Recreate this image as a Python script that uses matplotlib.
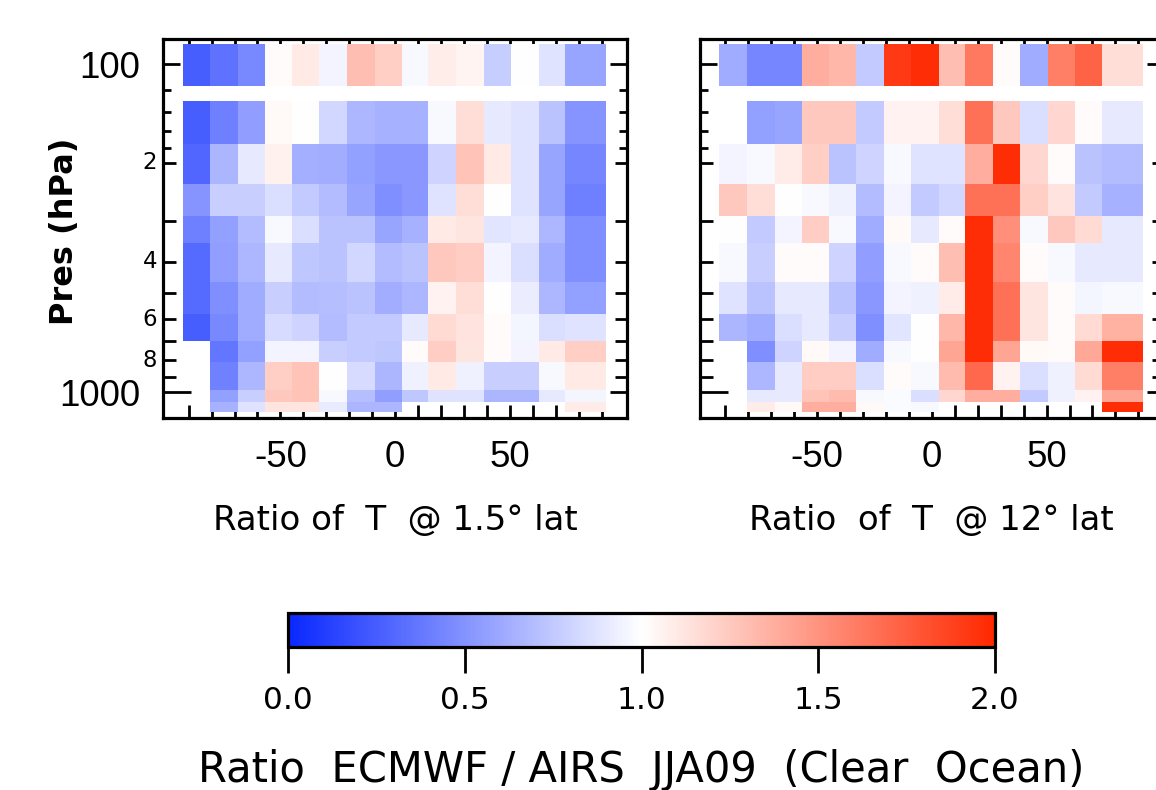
import numpy as np
import matplotlib
matplotlib.use("Agg")
import matplotlib.pyplot as plt
from matplotlib.colors import LinearSegmentedColormap
from matplotlib.ticker import FixedLocator, NullFormatter

plt.rcParams['font.family'] = ['Liberation Sans', 'DejaVu Sans']

nan = np.nan

# latitude bin edges (deg) and pressure bin edges (hPa)
lat_edges = [-92.5, -80.5, -68.5, -56.5, -45, -33, -21, -9, 3, 14.5, 26.5, 38.5, 50.5, 62.5, 74, 92]
pres_edges = [87, 117, 130, 175, 232, 290, 350, 463, 580, 699, 810, 988, 1073, 1151]

# ECMWF / AIRS ratio, rows top (100 hPa) to bottom (surface)
ratio_1p5 = [
    [0.25, 0.35, 0.45, 1.02, 1.10, 0.95, 1.30, 1.22, 0.97, 1.08, 1.05, 0.77, 1.00, 0.87, 0.58],
    [nan] * 15,
    [0.25, 0.41, 0.55, 1.03, 1.00, 0.82, 0.67, 0.64, 0.64, 0.97, 1.15, 0.90, 0.87, 0.72, 0.50],
    [0.29, 0.66, 0.90, 1.07, 0.63, 0.62, 0.56, 0.52, 0.52, 0.80, 1.28, 1.10, 0.87, 0.58, 0.44],
    [0.50, 0.78, 0.78, 0.85, 0.75, 0.69, 0.58, 0.48, 0.52, 0.87, 1.15, 1.00, 0.87, 0.58, 0.41],
    [0.41, 0.56, 0.69, 0.97, 0.85, 0.72, 0.72, 0.58, 0.64, 1.10, 1.12, 0.88, 0.90, 0.67, 0.48],
    [0.31, 0.55, 0.67, 0.90, 0.74, 0.72, 0.82, 0.69, 0.72, 1.25, 1.23, 0.95, 0.85, 0.61, 0.48],
    [0.31, 0.48, 0.61, 0.78, 0.69, 0.70, 0.72, 0.62, 0.67, 1.06, 1.15, 1.00, 0.92, 0.67, 0.56],
    [0.25, 0.45, 0.61, 0.83, 0.80, 0.69, 0.75, 0.75, 0.90, 1.17, 1.13, 1.02, 0.96, 0.85, 0.87],
    [nan, 0.36, 0.56, 0.95, 0.95, 0.78, 0.75, 0.74, 1.02, 1.23, 1.12, 1.02, 0.95, 1.10, 1.22],
    [nan, 0.42, 0.67, 1.22, 1.28, 1.00, 0.83, 0.66, 0.93, 1.10, 0.93, 0.78, 0.78, 0.97, 1.10],
    [nan, 0.56, 0.78, 1.25, 1.28, 0.97, 0.70, 0.55, 0.74, 0.87, 0.87, 0.66, 0.66, 0.90, 0.96],
    [nan, 0.64, 0.87, 1.12, 1.12, 0.91, 0.66, 0.66, nan, nan, nan, nan, nan, nan, 1.09],
]

ratio_12 = [
    [0.61, 0.44, 0.44, 1.38, 1.33, 0.75, 1.92, 1.97, 1.30, 1.62, 1.02, 0.61, 1.60, 1.72, 1.15],
    [nan] * 15,
    [nan, 0.56, 0.58, 1.25, 1.25, 0.75, 1.06, 1.06, 1.15, 1.66, 1.25, 0.85, 1.18, 1.02, 0.90],
    [0.95, 0.97, 1.09, 1.22, 0.72, 0.80, 0.97, 0.87, 0.87, 1.38, 1.97, 1.18, 1.02, 0.72, 0.69],
    [1.25, 1.15, 1.00, 0.97, 0.93, 0.69, 0.95, 0.75, 0.82, 1.66, 1.66, 1.22, 1.13, 0.75, 0.64],
    [1.00, 0.75, 0.95, 1.23, 0.97, 0.61, 1.03, 0.90, 1.02, 1.97, 1.52, 0.97, 1.25, 1.17, 0.90],
    [0.97, 0.78, 1.02, 1.02, 0.80, 0.55, 0.97, 1.02, 1.30, 1.97, 1.57, 1.02, 0.97, 0.90, 0.90],
    [0.87, 0.72, 0.90, 0.90, 0.72, 0.52, 0.95, 0.93, 1.09, 1.97, 1.66, 1.12, 1.02, 0.96, 0.97],
    [0.66, 0.61, 0.85, 0.90, 0.78, 0.48, 0.88, 1.00, 1.33, 1.97, 1.66, 1.12, 1.02, 1.17, 1.36],
    [nan, 0.48, 0.80, 1.03, 0.95, 0.61, 0.97, 1.00, 1.42, 1.97, 1.42, 1.03, 1.02, 1.40, 1.97],
    [nan, 0.67, 0.90, 1.23, 1.23, 0.85, 1.02, 0.97, 1.32, 1.70, 1.06, 0.85, 0.93, 1.17, 1.60],
    [nan, 0.90, 0.90, 1.28, 1.32, 0.97, 0.98, 0.85, 1.18, 1.38, 1.38, 0.75, 0.93, 1.06, 1.42],
    [nan, 1.09, 1.03, 1.38, 1.38, 1.03, 0.98, 0.97, nan, nan, nan, nan, nan, nan, 1.97],
]

panel_titles = ["Ratio of  T  @ 1.5\u00b0 lat", "Ratio  of  T  @ 12\u00b0 lat"]
minor_labels = {200: "2", 400: "4", 600: "6", 800: "8"}
cbar_ticks = [0.0, 0.5, 1.0, 1.5, 2.0]
cbar_title = "Ratio  ECMWF / AIRS  JJA09  (Clear  Ocean)"

cmap = LinearSegmentedColormap.from_list("bwr_idl", ["#0a28ff", "#ffffff", "#ff2800"])

fig = plt.figure(figsize=(11.56, 7.9), dpi=100)
ax1 = fig.add_axes([0.1413, 0.4709, 0.4011, 0.4794])
ax2 = fig.add_axes([0.6055, 0.4709, 0.4011, 0.4794])

for ax, data, title in [(ax1, ratio_1p5, panel_titles[0]), (ax2, ratio_12, panel_titles[1])]:
    mesh = ax.pcolormesh(lat_edges, pres_edges, np.array(data), cmap=cmap,
                         vmin=0, vmax=2, zorder=2)
    ax.set_yscale('log')
    ax.set_xlim(-101, 101)
    ax.set_ylim(1200, 84)
    for s in ax.spines.values():
        s.set_linewidth(2.3)
        s.set_zorder(3)

    ax.xaxis.set_major_locator(FixedLocator([-50, 0, 50]))
    ax.xaxis.set_minor_locator(FixedLocator([-90, -80, -70, -60, -40, -30, -20, -10,
                                             10, 20, 30, 40, 60, 70, 80, 90]))
    ax.set_xticklabels(["-50", "0", "50"])
    ax.tick_params(axis='x', which='both', direction='in', top=True, bottom=True,
                   length=9.5, width=2, labelsize=26.5, pad=16)

    ax.yaxis.set_major_locator(FixedLocator([100, 1000]))
    ax.yaxis.set_minor_locator(FixedLocator([120, 140, 160, 180, 200, 300, 400, 500,
                                             600, 700, 800, 900]))
    ax.yaxis.set_minor_formatter(NullFormatter())
    ax.set_yticklabels(["100", "1000"])
    ax.tick_params(axis='y', which='major', direction='in', left=True, right=True,
                   length=12, width=2, labelsize=26.5, pad=16.5)
    ax.tick_params(axis='y', which='minor', direction='in', left=True, right=True,
                   length=9, width=2)
    for t in ax.yaxis.get_minor_ticks()[:4]:
        t.tick1line.set_markersize(6)
        t.tick2line.set_markersize(6)
    ax.yaxis.get_major_ticks()[1].tick1line.set_markersize(20)
    ax.set_xlabel(title, family='DejaVu Sans', fontsize=24.5, labelpad=21)

# small intermediate pressure labels (IDL style "2", "4", ...)
for p, lab in minor_labels.items():
    ax1.text(-0.013, p, lab, transform=ax1.get_yaxis_transform(), ha='right',
             va='center', fontsize=16.5, family='DejaVu Sans')

ax1.set_ylabel("Pres (hPa)", family='DejaVu Sans', fontweight='bold', fontsize=23)
ax1.yaxis.set_label_coords(-0.1803, 0.494)
ax2.yaxis.set_major_formatter(NullFormatter())

cax = fig.add_axes([0.2494, 0.1814, 0.6113, 0.0423])
cb = fig.colorbar(mesh, cax=cax, orientation='horizontal', ticks=cbar_ticks)
cb.outline.set_linewidth(2.3)
cb.ax.set_xticklabels([f"{t:.1f}" for t in cbar_ticks], family='DejaVu Sans')
cb.ax.tick_params(direction='out', length=19, width=2, labelsize=22.5, pad=9)
cb.ax.set_xlabel(cbar_title, family='DejaVu Sans', fontsize=30, labelpad=25)

fig.savefig("out.png", dpi=100)
